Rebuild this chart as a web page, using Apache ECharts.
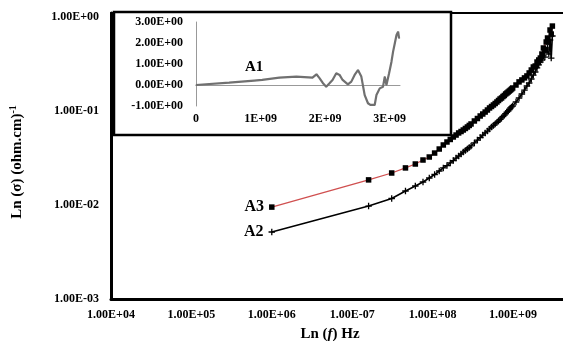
<!DOCTYPE html>
<html>
<head>
<meta charset="utf-8">
<script src="https://cdn.jsdelivr.net/npm/echarts@6/dist/echarts.min.js"></script>
<style>html,body{margin:0;padding:0;background:#fff}#c{width:563px;height:341px}</style>
</head>
<body>
<div id="c"></div>
<script>
const X_TICK_LABELS = ['1.00E+04','1.00E+05','1.00E+06','1.00E-07','1.00E+08','1.00E+09'];
const Y_TICK_LABELS = ['1.00E-03','1.00E-02','1.00E-01','1.00E+00'];
const FREQ = [1e6, 1.6e7, 3.1e7, 4.6e7, 6.1e7, 7.6e7, 9.1e7, 1.06e8, 1.21e8, 1.36e8, 1.51e8, 1.66e8, 1.81e8, 1.96e8, 2.11e8, 2.26e8, 2.41e8, 2.56e8, 2.71e8, 2.86e8, 3.01e8,
  3.31e8, 3.61e8, 3.91e8, 4.21e8, 4.51e8, 4.81e8, 5.11e8, 5.41e8, 5.71e8, 6.01e8, 6.31e8, 6.61e8, 6.91e8, 7.21e8, 7.51e8, 7.81e8, 8.11e8, 8.41e8, 8.71e8, 9.01e8, 9.31e8, 9.61e8, 9.91e8,
  1.09e9, 1.19e9, 1.29e9, 1.39e9, 1.49e9, 1.59e9, 1.69e9, 1.79e9, 1.89e9, 1.99e9, 2.09e9, 2.19e9, 2.29e9, 2.39e9, 2.49e9, 2.59e9, 2.69e9, 2.79e9, 2.89e9, 2.99e9, 3.09e9];
const A3 = [0.0095, 0.0185, 0.0219, 0.0248, 0.0273, 0.0301, 0.0324, 0.0357, 0.0394, 0.0435, 0.0468, 0.0498, 0.0529, 0.0555, 0.0584, 0.0605, 0.0628, 0.0652, 0.0676, 0.0702, 0.0728,
  0.0783, 0.0832, 0.0885, 0.0929, 0.0975, 0.1025, 0.1077, 0.1117, 0.1159, 0.1202, 0.1247, 0.1294, 0.1342, 0.1375, 0.1426, 0.1462, 0.1517, 0.1553, 0.1592, 0.1632, 0.1671, 0.1714, 0.1757,
  0.189, 0.204, 0.214, 0.225, 0.236, 0.254, 0.273, 0.294, 0.301, 0.332, 0.349, 0.366, 0.404, 0.468, 0.446, 0.542, 0.598, 0.542, 0.727, 0.659, 0.801];
const A2 = [0.00516, 0.00975, 0.01172, 0.01409, 0.01592, 0.01757, 0.01937, 0.0211, 0.0230, 0.0248, 0.0263, 0.0280, 0.0297, 0.0316, 0.0332, 0.0349, 0.0366, 0.0380, 0.0394, 0.0409, 0.0425,
  0.0457, 0.0491, 0.0522, 0.0555, 0.0584, 0.0612, 0.0644, 0.0676, 0.0702, 0.0728, 0.0755, 0.0783, 0.0813, 0.0843, 0.0874, 0.0906, 0.0940, 0.0975, 0.100, 0.1037, 0.1077, 0.1104, 0.1131,
  0.1247, 0.1375, 0.1517, 0.1671, 0.1844, 0.1985, 0.219, 0.241, 0.260, 0.287, 0.309, 0.332, 0.349, 0.385, 0.375, 0.446, 0.468, 0.404, 0.569, 0.366, 0.628];
const INSET_X_LABELS = ['0','1E+09','2E+09','3E+09'];
const INSET_Y_LABELS = ['-1.00E+00','0.00E+00','1.00E+00','2.00E+00','3.00E+00'];
const A1_FREQ = [0, 0.513e9, 0.9e9, 1.026e9, 1.291e9, 1.555e9, 1.804e9, 1.866e9, 1.913e9, 1.964e9, 2.017e9, 2.068e9, 2.115e9, 2.173e9, 2.224e9, 2.271e9, 2.353e9, 2.406e9, 2.457e9, 2.509e9, 2.561e9, 2.613e9, 2.664e9, 2.701e9, 2.768e9, 2.795e9, 2.846e9, 2.897e9, 2.924e9, 2.950e9, 2.991e9, 3.028e9, 3.053e9, 3.079e9, 3.106e9, 3.131e9, 3.146e9];
const A1 = [0.0, 0.11, 0.21, 0.24, 0.35, 0.40, 0.35, 0.51, 0.33, 0.10, -0.08, 0.08, 0.24, 0.56, 0.48, 0.24, 0.03, 0.16, 0.48, 0.71, 0.40, -0.48, -0.87, -0.95, -0.95, -0.48, -0.16, -0.08, 0.40, 0.0, 0.56, 1.11, 1.59, 1.98, 2.38, 2.54, 2.22];
const A1_LABEL_INDEX = 2;

const FONT = '"Liberation Serif", "Times New Roman", serif';
const tickFont = {fontFamily: FONT, fontWeight: 'bold', fontSize: 12, color: '#000'};

function logLabel(arr, base) {
  return function (v) {
    const e = Math.log10(v);
    const r = Math.round(e);
    if (Math.abs(e - r) > 1e-6) return '';
    return arr[r - base] || '';
  };
}
function linLabel(arr, start, step) {
  return function (v) {
    const k = (v - start) / step;
    const r = Math.round(k);
    if (Math.abs(k - r) > 1e-6) return '';
    return arr[r] || '';
  };
}

const chart = echarts.init(document.getElementById('c'), null, {renderer: 'canvas', width: 563, height: 341});

const plusPath = 'path://M4,0h2v4h4v2h-4v4h-2v-4h-4v-2h4z';

function mainData(vals, name) {
  return FREQ.map((f, i) => {
    const d = {value: [f, vals[i]]};
    if (i === 0) d.label = {show: true, position: 'left', distance: 5, formatter: name,
      fontFamily: FONT, fontWeight: 'bold', fontSize: 16, color: '#000'};
    return d;
  });
}

const option = {
  animation: false,
  backgroundColor: '#fff',
  grid: [
    {left: 111, top: 13, right: 0, bottom: 42, outerBoundsMode: 'none', containLabel: false},
    {left: 196, top: 22, width: 204, height: 84, z: 10, outerBoundsMode: 'none', containLabel: false}
  ],
  xAxis: [
    {type: 'log', gridIndex: 0, min: 1e4, max: 4.19e9, logBase: 10,
      axisLine: {lineStyle: {color: '#000', width: 3}},
      axisTick: {show: false}, splitLine: {show: false}, minorTick: {show: false},
      axisLabel: Object.assign({margin: 10, formatter: logLabel(X_TICK_LABELS, 4)}, tickFont),
      name: '{a|Ln (}{i|f}{a|) Hz}', nameLocation: 'middle', nameGap: 28,
      nameTextStyle: {padding: [0, 14, 0, 0], rich: {
        a: {fontFamily: FONT, fontWeight: 'bold', fontSize: 15, color: '#000'},
        i: {fontFamily: FONT, fontWeight: 'bold', fontStyle: 'italic', fontSize: 15, color: '#000'}}}
    },
    {type: 'log', gridIndex: 0, position: 'top', min: 1e4, max: 4.19e9,
      axisLine: {lineStyle: {color: '#000', width: 2}},
      axisTick: {show: false}, axisLabel: {show: false}, splitLine: {show: false}},
    {type: 'value', gridIndex: 1, min: 0, max: 3.16e9, interval: 1e9, z: 10,
      axisLine: {lineStyle: {color: '#999', width: 1}},
      axisTick: {show: false}, splitLine: {show: false},
      axisLabel: Object.assign({margin: 7, formatter: linLabel(INSET_X_LABELS, 0, 1e9)}, tickFont)}
  ],
  yAxis: [
    {type: 'log', gridIndex: 0, min: 1e-3, max: 1.103, logBase: 10,
      axisLine: {lineStyle: {color: '#000', width: 3}},
      axisTick: {show: false}, splitLine: {show: false}, minorTick: {show: false},
      axisLabel: Object.assign({margin: 12, formatter: logLabel(Y_TICK_LABELS, -3)}, tickFont),
      name: '{a|Ln (σ) (ohm.cm)}{s|-1}', nameLocation: 'middle', nameGap: 84,
      nameTextStyle: {padding: [0, 12, 0, 0], rich: {
        a: {fontFamily: FONT, fontWeight: 'bold', fontSize: 15, color: '#000'},
        s: {fontFamily: FONT, fontWeight: 'bold', fontSize: 10, color: '#000', padding: [0, 0, 9, 0]}}}
    },
    {type: 'value', gridIndex: 1, min: -1, max: 3, interval: 1, z: 10,
      axisLine: {show: true, lineStyle: {color: '#999', width: 1}},
      axisTick: {show: false}, splitLine: {show: false},
      axisLabel: Object.assign({margin: 13, formatter: linLabel(INSET_Y_LABELS, -1, 1)}, tickFont)}
  ],
  graphic: [
    {type: 'rect', z: 5, shape: {x: 114, y: 12, width: 337, height: 123},
      style: {fill: '#fff', stroke: '#000', lineWidth: 2.5}}
  ],
  series: [
    {name: 'A2', type: 'line', xAxisIndex: 0, yAxisIndex: 0, data: mainData(A2, 'A2'), smooth: false,
      symbol: plusPath, symbolSize: 6.5, itemStyle: {color: '#000'},
      lineStyle: {color: '#000', width: 1.6}, z: 3},
    {name: 'A3', type: 'line', xAxisIndex: 0, yAxisIndex: 0, data: mainData(A3, 'A3'), smooth: false,
      symbol: 'rect', symbolSize: 5.5, itemStyle: {color: '#000'},
      lineStyle: {color: '#d05050', width: 1.3}, z: 4},
    {name: 'A1', type: 'line', xAxisIndex: 2, yAxisIndex: 1, z: 12, smooth: false,
      data: A1_FREQ.map((f, i) => {
        const d = {value: [f, A1[i]]};
        if (i === A1_LABEL_INDEX) d.label = {show: true, position: 'top', distance: 5, offset: [-6, 0], formatter: 'A1',
          fontFamily: FONT, fontWeight: 'bold', fontSize: 15, color: '#000'};
        return d;
      }),
      symbol: 'circle', symbolSize: 1, showSymbol: true, showAllSymbol: true,
      labelLayout: {hideOverlap: false},
      itemStyle: {color: '#707070'},
      lineStyle: {color: '#707070', width: 2.2}}
  ]
};
chart.setOption(option);
</script>
</body>
</html>
